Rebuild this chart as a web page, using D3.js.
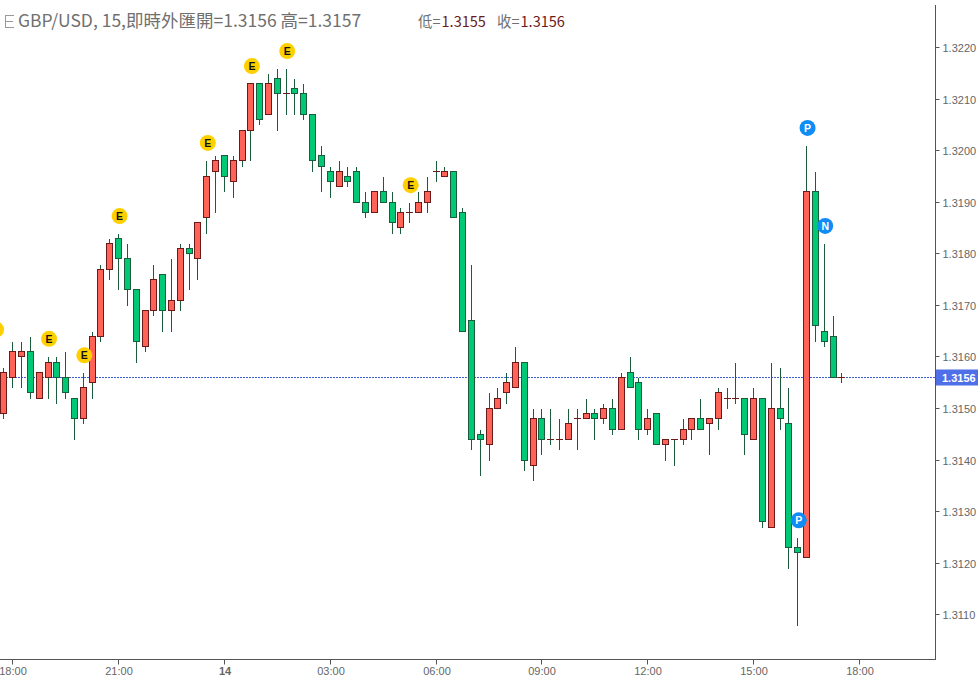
<!DOCTYPE html>
<html>
<head>
<meta charset="utf-8">
<script src="https://cdn.jsdelivr.net/npm/d3@7"></script>
<style>
  body { margin: 0; background: #fff; }
  svg { display: block; }
  .tick text { font-family: "Liberation Sans", Arial, sans-serif; font-size: 11px; fill: #666; }
  .axis path, .axis line { stroke: #555; }
</style>
</head>
<body>
<svg id="chart" width="978" height="677"></svg>
<script>
// 15 minute bars, bar number counted from the 18:00 candle
let bars = [-1,0,1,2,3,4,5,6,7,8,9,10,11,12,13,14,15,16,17,18,19,20,21,22,23,24,25,26,27,28,29,30,31,32,33,34,35,36,37,38,39,40,41,42,43,44,45,46,47,48,49,50,51,52,53,54,55,56,57,58,59,60,61,62,63,64,65,66,67,68,69,70,71,72,73,74,75,76,77,78,79,80,81,82,83,84,85,86,87,88,89,90,91,92,93,94]

let open = [1.3149,1.3156,1.3160,1.3161,1.3152,1.3156,1.3159,1.3156,1.3152,1.3148,1.3155,1.3164,1.3177,1.3183,1.3179,1.3173,1.3162,1.3169,1.3176,1.3169,1.3171,1.3181,1.3179,1.3187,1.3196,1.3199,1.3194,1.3198,1.3204,1.3213,1.3207,1.3214,1.3211,1.3212,1.3211,1.3207,1.3199,1.3196,1.3193,1.3195,1.3196,1.3190,1.3188,1.3192,1.3190,1.3185,1.3188,1.3188,1.3190,1.3196,1.3195,1.3196,1.3188,1.3167,1.3145,1.3143,1.3150,1.3153,1.3154,1.3159,1.3139,1.3148,1.3144,1.3144,1.3144,1.3148,1.3148,1.3149,1.3148,1.3150,1.3146,1.3157,1.3155,1.3146,1.3149,1.3143,1.3144,1.3144,1.3146,1.3148,1.3147,1.3148,1.3152,1.3152,1.3152,1.3144,1.3152,1.3127,1.3150,1.3147,1.3123,1.3121,1.3192,1.3165,1.3164,1.3156]
let high = [1.3158,1.3163,1.3163,1.3164,1.3157,1.3160,1.3160,1.3161,1.3152,1.3157,1.3165,1.3178,1.3183,1.3184,1.3182,1.3173,1.3169,1.3178,1.3176,1.3179,1.3182,1.3182,1.3186,1.3198,1.3199,1.3199,1.3199,1.3204,1.3213,1.3213,1.3215,1.3216,1.3216,1.3214,1.3213,1.3207,1.3201,1.3197,1.3198,1.3197,1.3197,1.3192,1.3192,1.3195,1.3192,1.3189,1.3190,1.3192,1.3195,1.3198,1.3197,1.3196,1.3189,1.3178,1.3146,1.3153,1.3154,1.3157,1.3162,1.3159,1.3150,1.3150,1.3150,1.3148,1.3150,1.3150,1.3152,1.3150,1.3151,1.3152,1.3157,1.3160,1.3156,1.3150,1.3149,1.3144,1.3144,1.3148,1.3148,1.3152,1.3148,1.3154,1.3154,1.3159,1.3152,1.3154,1.3152,1.3159,1.3158,1.3154,1.3125,1.3201,1.3196,1.3182,1.3168,1.3157]
let low = [1.3148,1.3154,1.3154,1.3152,1.3152,1.3152,1.3151,1.3152,1.3144,1.3147,1.3152,1.3163,1.3175,1.3173,1.3170,1.3159,1.3161,1.3168,1.3165,1.3165,1.3169,1.3173,1.3175,1.3184,1.3188,1.3192,1.3191,1.3197,1.3198,1.3205,1.3207,1.3204,1.3207,1.3207,1.3206,1.3196,1.3192,1.3191,1.3193,1.3193,1.3190,1.3187,1.3188,1.3190,1.3184,1.3184,1.3186,1.3188,1.3188,1.3194,1.3195,1.3187,1.3165,1.3142,1.3137,1.3140,1.3150,1.3151,1.3154,1.3138,1.3136,1.3141,1.3143,1.3142,1.3144,1.3142,1.3148,1.3144,1.3147,1.3145,1.3146,1.3154,1.3144,1.3145,1.3143,1.3140,1.3139,1.3143,1.3144,1.3146,1.3141,1.3146,1.3150,1.3151,1.3141,1.3144,1.3127,1.3127,1.3146,1.3119,1.3108,1.3121,1.3163,1.3162,1.3156,1.3155]
let close = [1.3157,1.3161,1.3161,1.3153,1.3157,1.3159,1.3156,1.3153,1.3148,1.3154,1.3164,1.3177,1.3182,1.3179,1.3173,1.3163,1.3169,1.3175,1.3169,1.3171,1.3181,1.3180,1.3186,1.3195,1.3198,1.3195,1.3198,1.3204,1.3213,1.3206,1.3213,1.3211,1.3211,1.3211,1.3207,1.3198,1.3197,1.3194,1.3196,1.3194,1.3190,1.3188,1.3192,1.3190,1.3186,1.3188,1.3188,1.3190,1.3192,1.3196,1.3196,1.3187,1.3165,1.3144,1.3144,1.3150,1.3152,1.3155,1.3159,1.3140,1.3148,1.3144,1.3144,1.3144,1.3147,1.3148,1.3149,1.3148,1.3150,1.3146,1.3156,1.3154,1.3146,1.3148,1.3143,1.3144,1.3144,1.3146,1.3148,1.3146,1.3148,1.3153,1.3152,1.3152,1.3145,1.3152,1.3128,1.3150,1.3148,1.3123,1.3122,1.3192,1.3166,1.3163,1.3156,1.3156]

// event bubbles on the chart
let eventBars = [-2,4,8,12,22,27,31,45,89,90,92]
let eventPrices = [1.31653,1.31635,1.31603,1.31873,1.32015,1.32164,1.32193,1.31933,1.31283,1.32044,1.31854]
let eventLetters = ["E","E","E","E","E","E","E","E","P","P","N"]

let priceTicks = [1.3110,1.3120,1.3130,1.3140,1.3150,1.3160,1.3170,1.3180,1.3190,1.3200,1.3210,1.3220]
let timeTickBars = [0,12,24,36,48,60,72,84,96]
let timeTickLabels = ["18:00","21:00","14","03:00","06:00","09:00","12:00","15:00","18:00"]
let lastPrice = 1.3156

let width = 978;
let height = 677;
let plotRight = 935;
let plotBottom = 659;
let svg = d3.select("#chart")

let x = d3.scaleLinear()
    .domain([0, 96])
    .range([12.75, 859.47])

let y = d3.scaleLinear()
    .domain([1.3220, 1.3110])
    .range([47.5, 614.7])

let px = v => Math.floor(v) + 0.5

let upColor = "#ff6358", upBorder = "#6b1a1a"
let downColor = "#00c875", downBorder = "#1a5c3c"
let wickColor = "#1a5c3c"

svg.append("rect").attr("width", width).attr("height", height).style("fill", "#fff")

let yAxisSettings = d3.axisRight(y)
    .tickValues(priceTicks)
    .tickFormat(d3.format(".4f"))
    .tickSize(4)
    .tickPadding(3)

let xAxisSettings = d3.axisBottom(x)
    .tickValues(timeTickBars)
    .tickFormat((d, i) => timeTickLabels[i])
    .tickSize(5)
    .tickPadding(3)

let yAxisTicks = svg.append("g")
    .attr("class", "y axis")
    .attr("transform", `translate(${plotRight + 0.5},0)`)
    .call(yAxisSettings)
yAxisTicks.select(".domain").remove()
yAxisTicks.selectAll(".tick").attr("transform", d => `translate(0,${px(y(d))})`)
yAxisTicks.selectAll(".tick text").attr("y", 1)

let xAxisTicks = svg.append("g")
    .attr("class", "x axis")
    .attr("transform", `translate(0,${plotBottom + 0.5})`)
    .call(xAxisSettings)
xAxisTicks.select(".domain").remove()
xAxisTicks.selectAll(".tick").attr("transform", d => `translate(${px(x(d))},0)`)
xAxisTicks.selectAll(".tick text")
    .attr("x", 0.5)
    .style("font-weight", (d, i) => timeTickLabels[i] == "14" ? "bold" : "normal")

svg.append("line")
    .attr("x1", plotRight + 0.5).attr("x2", plotRight + 0.5)
    .attr("y1", 5).attr("y2", plotBottom + 1)
    .style("stroke", "#555")
svg.append("line")
    .attr("x1", 0).attr("x2", plotRight + 1)
    .attr("y1", plotBottom + 0.5).attr("y2", plotBottom + 0.5)
    .style("stroke", "#555")

// last price line
svg.append("line")
    .attr("x1", 0).attr("x2", plotRight)
    .attr("y1", px(y(lastPrice))).attr("y2", px(y(lastPrice)))
    .style("stroke", "#3f5fd0")
    .style("stroke-dasharray", "2,1")

let candles = svg.append("g").attr("id", "candles")
    .selectAll("g")
    .data(bars)
    .join("g")
    .attr("transform", d => `translate(${px(x(d))},0)`)

candles.append("line")
    .attr("y1", (d, i) => px(y(high[i])))
    .attr("y2", (d, i) => px(y(low[i])) + 0.5)
    .style("stroke", wickColor)
    .style("shape-rendering", "crispEdges")

candles.filter((d, i) => open[i] != close[i]).append("rect")
    .attr("x", -3)
    .attr("width", 6)
    .attr("y", d => px(y(Math.max(open[bars.indexOf(d)], close[bars.indexOf(d)]))))
    .attr("height", d => px(y(Math.min(open[bars.indexOf(d)], close[bars.indexOf(d)]))) - px(y(Math.max(open[bars.indexOf(d)], close[bars.indexOf(d)]))))
    .style("fill", d => close[bars.indexOf(d)] >= open[bars.indexOf(d)] ? upColor : downColor)
    .style("stroke", d => close[bars.indexOf(d)] >= open[bars.indexOf(d)] ? upBorder : downBorder)
    .style("shape-rendering", "crispEdges")

// bars that opened and closed at the same price are a flat dash
candles.filter((d, i) => open[i] == close[i]).append("line")
    .attr("x1", -3.5)
    .attr("x2", 3.5)
    .attr("y1", d => px(y(close[bars.indexOf(d)])))
    .attr("y2", d => px(y(close[bars.indexOf(d)])))
    .style("stroke", upBorder)
    .style("shape-rendering", "crispEdges")

let events = svg.append("g").attr("id", "events")
    .selectAll("g")
    .data(eventBars)
    .join("g")
    .attr("transform", (d, i) => `translate(${x(d) + 1},${y(eventPrices[i])})`)

events.append("circle")
    .attr("r", 8)
    .style("fill", (d, i) => eventLetters[i] == "E" ? "#ffd000" : "#108cf5")

events.append("text")
    .attr("text-anchor", "middle")
    .attr("y", 3.7)
    .style("font-family", "'Liberation Sans', Arial, sans-serif")
    .style("font-size", "10.5px")
    .style("font-weight", "bold")
    .style("fill", (d, i) => eventLetters[i] == "E" ? "#111" : "#fff")
    .text((d, i) => eventLetters[i])

// last price tag on the axis
svg.append("rect")
    .attr("x", plotRight + 1).attr("y", px(y(lastPrice)) - 8)
    .attr("width", width - plotRight - 1).attr("height", 16)
    .style("fill", "#4f6fe8")

svg.append("text")
    .attr("x", 942)
    .attr("y", px(y(lastPrice)) + 4)
    .style("font-family", "'Liberation Sans', Arial, sans-serif")
    .style("font-size", "11px")
    .style("font-weight", "bold")
    .style("fill", "#fff")
    .text(d3.format(".4f")(lastPrice))

// legend collapse icon
let icon = svg.append("g").style("stroke", "#999")
icon.append("line").attr("x1", 5.5).attr("x2", 5.5).attr("y1", 15).attr("y2", 27)
icon.append("line").attr("x1", 5).attr("x2", 14).attr("y1", 15.5).attr("y2", 15.5)
icon.append("line").attr("x1", 5).attr("x2", 13).attr("y1", 21.5).attr("y2", 21.5)
icon.append("line").attr("x1", 5).attr("x2", 14).attr("y1", 27.5).attr("y2", 27.5)

let cjk = "'Noto Sans CJK TC', 'Noto Sans', sans-serif"

svg.append("text")
    .attr("x", 18)
    .attr("y", 27)
    .style("font-family", cjk)
    .style("font-size", "17.5px")
    .style("fill", "#707070")
    .text("GBP/USD, 15,即時外匯開=1.3156 高=1.3157")

let legendLow = svg.append("text")
    .attr("x", 418)
    .attr("y", 27)
    .style("font-family", cjk)
    .style("font-size", "14.5px")
    .style("fill", "#707070")
legendLow.append("tspan").text("低=")
legendLow.append("tspan").attr("dx", 1).style("fill", "#6b1a1a").text("1.3155")

let legendClose = svg.append("text")
    .attr("x", 497)
    .attr("y", 27)
    .style("font-family", cjk)
    .style("font-size", "14.5px")
    .style("fill", "#707070")
legendClose.append("tspan").text("收=")
legendClose.append("tspan").attr("dx", 1).style("fill", "#6b1a1a").text("1.3156")
</script>
</body>
</html>
